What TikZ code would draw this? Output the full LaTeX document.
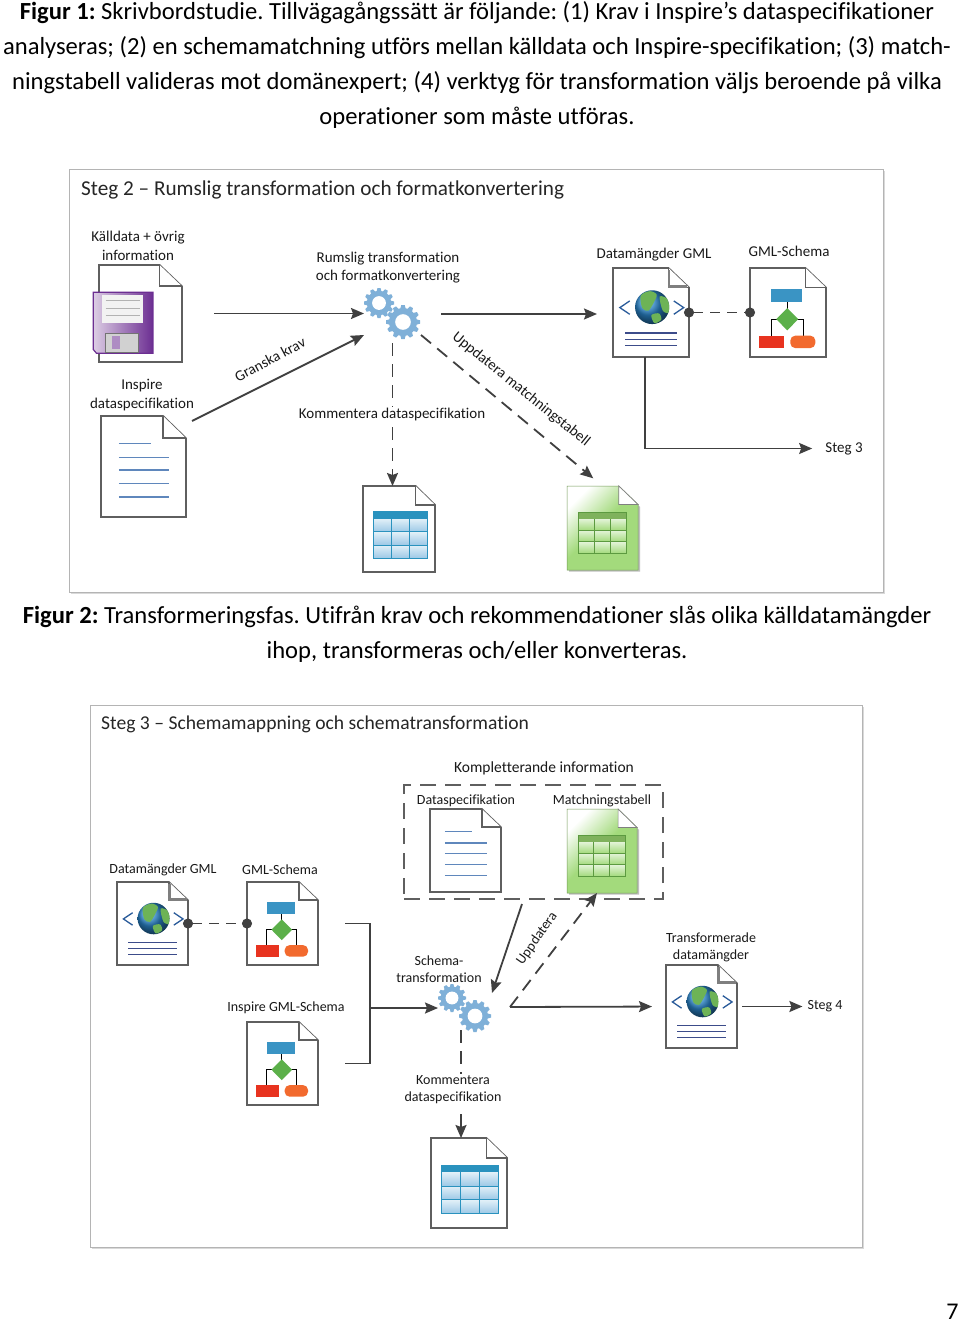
\documentclass[tikz,border=0pt]{standalone}
\usepackage{fontspec}
\setmainfont{Carlito}[Ligatures=CommonOff]
\usetikzlibrary{arrows.meta, calc}

\definecolor{linedark}{HTML}{404040}
\definecolor{pagegray}{HTML}{5F5F5F}
\definecolor{panelgray}{HTML}{B4B4B4}
\definecolor{gearblue}{HTML}{7FB0D8}
\definecolor{textlines}{HTML}{5F87BC}
\definecolor{tablehead}{HTML}{2A92BE}
\definecolor{tablelite}{HTML}{E2F0F8}
\definecolor{tabledark}{HTML}{9CC8E6}
\definecolor{greendoc}{HTML}{A3DA7C}
\definecolor{greenhead}{HTML}{7FB25C}
\definecolor{greenrule}{HTML}{5C9A40}
\definecolor{floppydark}{HTML}{6C2E92}
\definecolor{floppylite}{HTML}{DCCDE4}
\definecolor{globeblue}{HTML}{2A86CC}
\definecolor{globegreen}{HTML}{6DB356}
\definecolor{chevron}{HTML}{2A5B9A}
\definecolor{gmllines}{HTML}{3C4C8A}
\definecolor{schemablue}{HTML}{3A94C4}
\definecolor{schemagreen}{HTML}{5CB04A}
\definecolor{schemared}{HTML}{E8331F}
\definecolor{schemaorange}{HTML}{F26A2E}

\pgfdeclarehorizontalshading{greenfade}{100bp}{color(0bp)=(white); color(25bp)=(white); color(48bp)=(greendoc); color(100bp)=(greendoc)}

\tikzset{
x=1pt, y=-1pt, % coordinates are the pixels of the page
>={Stealth[length=13pt, width=11pt, inset=2pt]}, % bold arrow heads
flow/.style={->, draw=linedark, line width=1.8pt},
dashflow/.style={flow, dash pattern=on 13pt off 8pt},
plainline/.style={draw=linedark, line width=1.8pt},
linked/.style={draw=linedark, line width=1.8pt, dash pattern=on 10pt off 7pt, {Circle[length=10pt]}-{Circle[length=10pt]}, shorten <=-5pt, shorten >=-5pt},
panel/.style={draw=panelgray, line width=1pt, fill=white, inner sep=0pt},
iconbox/.style={inner sep=0pt, outer sep=0pt},
pageline/.style={draw=pagegray, line width=1.7pt, fill=white, line join=miter},
captiontext/.style={align=center, inner sep=0pt, text=black, yshift=-1.5pt, font=\fontsize{24.6}{34.7}\selectfont\frenchspacing},
titletext/.style={anchor=west, inner sep=0pt, text=black!85, yshift=-1.5pt},
labelA/.style={align=center, inner sep=0pt, text=black!90, yshift=-1.5pt, font=\fontsize{15}{18.5}\selectfont},
labelB/.style={align=center, inner sep=0pt, text=black!90, yshift=-1.5pt, font=\fontsize{14}{17}\selectfont},
}

% page with folded corner, in units of the icon
\newcommand{\pageoutline}{
    \draw[pageline] (0,0) -- (.73,0) -- (1,.22) -- (1,1) -- (0,1) -- cycle;
    \draw[pageline] (.73,0) -- (.73,.22) -- (1,.22);
}
% table: x0 y0 x1 y1, light and dark cell, rule colour, head colour
\newcommand{\tablegrid}[8]{
    \foreach \i in {0,1,2}
        \foreach \j in {0,1,2}
            \shade[top color=#5, bottom color=#6]
                ({#1+\i*(#3-#1)/3},{#2+.08+\j*(#4-#2-.08)/3}) rectangle ({#1+(\i+1)*(#3-#1)/3},{#2+.08+(\j+1)*(#4-#2-.08)/3});
    \foreach \i in {1,2}
        \draw[#7, line width=.8pt] ({#1+\i*(#3-#1)/3},{#2+.08}) -- ({#1+\i*(#3-#1)/3},#4);
    \foreach \j in {1,2}
        \draw[#7, line width=.8pt] (#1,{#2+.08+\j*(#4-#2-.08)/3}) -- (#3,{#2+.08+\j*(#4-#2-.08)/3});
    \fill[#8] (#1,#2) rectangle (#3,{#2+.08});
    \draw[#7, line width=.8pt] (#1,#2) rectangle (#3,#4);
}
% icon node plus its drawing: name, pic, left, top, width, height
\newcommand{\placedoc}[6]{
    \node[iconbox, minimum width=#5pt, minimum height=#6pt] (#1) at ({#3+#5/2},{#4+#6/2}) {};
    \pic at (#3,#4) {#2={#5}{#6}};
}

\tikzset{
pics/specicon/.style 2 args={code={
    \begin{scope}[x=#1pt, y=-#2pt]
        \pageoutline
        \draw[textlines, line width=1.4pt] (.21,.27) -- (.59,.27);
        \foreach \ly in {.41,.535,.67,.80}
            \draw[textlines, line width=1.4pt] (.21,\ly) -- (.80,\ly);
    \end{scope}
}},
pics/tableicon/.style 2 args={code={
    \begin{scope}[x=#1pt, y=-#2pt]
        \pageoutline
        \tablegrid{.14}{.30}{.89}{.84}{tablelite}{tabledark}{tablehead}{tablehead}
    \end{scope}
}},
pics/greenicon/.style 2 args={code={
    \begin{scope}[x=#1pt, y=-#2pt]
        \fill[black!25] (.03,.03) -- (.76,.03) -- (1.03,.25) -- (1.03,1.02) -- (.03,1.02) -- cycle;
        \shade[shading=greenfade, shading angle=-45, draw=greendoc!70!black, line width=.5pt]
            (0,0) -- (.73,0) -- (1,.22) -- (1,1) -- (0,1) -- cycle;
        \fill[white] (.73,0) -- (.73,.22) -- (1,.22) -- cycle;
        \draw[black!50, line width=.7pt] (.73,0) -- (.73,.22) -- (1,.22) -- cycle;
        \tablegrid{.16}{.31}{.83}{.80}{white!70!greendoc}{greendoc}{greenrule}{greenhead}
    \end{scope}
}},
pics/floppyicon/.style 2 args={code={
    \begin{scope}[x=#1pt, y=-#2pt]
        \pageoutline
        \shade[left color=floppylite, right color=floppydark, draw=floppydark, line width=1.2pt]
            (-.07,.28) -- (.65,.28) -- (.65,.91) -- (-.03,.91) -- (-.07,.87) -- cycle;
        \fill[white!95!black] (.04,.31) rectangle (.53,.60);
        \foreach \ly in {.37,.445,.52}
            \draw[black!30, line width=.8pt] (.08,\ly) -- (.49,\ly);
        \fill[black!18] (.08,.70) rectangle (.47,.90);
        \draw[black!55, line width=.6pt] (.08,.70) rectangle (.47,.90);
        \fill[floppydark!55] (.16,.73) rectangle (.25,.87);
    \end{scope}
}},
pics/gmlicon/.style 2 args={code={
    \begin{scope}[x=#1pt, y=-#2pt]
        \pageoutline
        \draw[pagegray!80, line width=2.5pt] (.74,.02) -- (.74,.21) -- (.98,.21);
        \shade[ball color=globeblue] (.515,.44) ellipse [x radius=.225, y radius=.19];
        \begin{scope}
            \clip (.515,.44) ellipse [x radius=.225, y radius=.19];
            \fill[globegreen] plot[smooth cycle] coordinates {(.365,.31) (.485,.26) (.575,.30) (.535,.39) (.465,.48) (.385,.45)};
            \fill[globegreen] plot[smooth cycle] coordinates {(.615,.32) (.735,.36) (.745,.50) (.655,.48)};
            \fill[globegreen] plot[smooth cycle] coordinates {(.505,.53) (.605,.51) (.635,.58) (.545,.62)};
        \end{scope}
        \draw[chevron, line width=1.3pt] (.22,.37) -- (.09,.445) -- (.22,.52);
        \draw[chevron, line width=1.3pt] (.80,.37) -- (.93,.445) -- (.80,.52);
        \foreach \ly in {.73,.80,.875}
            \draw[gmllines, line width=1.2pt] (.16,\ly) -- (.84,\ly);
    \end{scope}
}},
pics/schemaicon/.style 2 args={code={
    \begin{scope}[x=#1pt, y=-#2pt]
        \pageoutline
        \draw[black, line width=1pt] (.49,.38) -- (.49,.48);
        \draw[black, line width=1pt] (.28,.76) -- (.28,.575) -- (.70,.575) -- (.70,.76);
        \fill[schemablue] (.28,.24) rectangle (.68,.38);
        \fill[schemagreen] (.49,.45) -- (.635,.575) -- (.49,.70) -- (.345,.575) -- cycle;
        \fill[schemared] (.12,.76) rectangle (.45,.90);
        \fill[schemaorange, rounded corners=5pt] (.53,.76) rectangle (.86,.90);
    \end{scope}
}},
pics/gearwheel/.style={code={
    \begin{scope}[x=#1pt, y=#1pt]
        \foreach \a in {0,30,...,330}
            \fill[gearblue, rotate=\a] (-.17,.74) -- (-.1,1) -- (.1,1) -- (.17,.74) -- cycle;
        \fill[gearblue] (0,0) circle[radius=.82];
        \fill[white] (0,0) circle[radius=.46];
    \end{scope}
}},
}

\begin{document}
\begin{tikzpicture}
    \useasboundingbox (0,0) rectangle (960,1322);

    % captions and page number
    \node[captiontext] (captionA) at (477,63.5) {{\bfseries Figur 1:} Skrivbordstudie. Tillvägagångssätt är följande: (1) Krav i Inspire’s dataspecifikationer\\analyseras; (2) en schemamatchning utförs mellan källdata och Inspire-specifikation; (3) match-\\ningstabell valideras mot domänexpert; (4) verktyg för transformation väljs beroende på vilka\\operationer som måste utföras.};
    \node[captiontext] (captionB) at (477,633) {{\bfseries Figur 2:} Transformeringsfas. Utifrån krav och rekommendationer slås olika källdatamängder\\ihop, transformeras och/eller konverteras.};
    \node[inner sep=0pt, font=\fontsize{24}{26}\selectfont] (pagenum) at (952.5,1312) {7};

    % first panel
    \fill[black!15] (71,171) rectangle (885,594);
    \node[panel, minimum width=814pt, minimum height=423pt] (panelA) at (476,380.5) {};
    \node[titletext, font=\fontsize{21.2}{24}\selectfont] (titleA) at (81,188) {Steg 2 – Rumslig transformation och formatkonvertering};

    \placedoc{srcdoc}{floppyicon}{99}{265}{83}{97}
    \placedoc{specdocA}{specicon}{101}{416}{85}{101}
    \placedoc{commentA}{tableicon}{363}{486}{72}{86}
    \placedoc{matchA}{greenicon}{567}{486}{71}{84}
    \placedoc{gmlA}{gmlicon}{613}{268}{76}{89}
    \placedoc{schemaA}{schemaicon}{750}{268}{76}{89}

    \node[iconbox, minimum width=57pt, minimum height=42pt] (gearsA) at (392.5,314) {};
    \pic at (379,303) {gearwheel=15};
    \pic at (403,322) {gearwheel=17};

    \node[labelA] (srclabel) at (138,244.5) {Källdata + övrig\\information};
    \node[labelA] (gearlabelA) at (388,266) {Rumslig transformation\\och formatkonvertering};
    \node[labelA] (gmllabelA) at (654,253) {Datamängder GML};
    \node[labelA] (schemalabelA) at (789,250) {GML-Schema};
    \node[labelA] (speclabelA) at (142,393.5) {Inspire\\dataspecifikation};
    \node[labelA, rotate=28] (kravlabel) at (270,358) {Granska krav};
    \node[labelA, rotate=-39] (updlabelA) at (521,388) {Uppdatera matchningstabell};
    \node[labelA] (stegthree) at (844,447) {Steg 3};

    \coordinate (specout) at (192,421);
    \coordinate (gmlexit) at (645,357);
    \draw[flow, shorten <=32pt] (srcdoc.east) -- (gearsA.west |- srcdoc.east);
    \draw[flow] (specout) -- (gearsA.south west);
    \draw[flow, shorten <=20pt, shorten >=16pt] (gearsA.east) -- (gmlA.west |- gearsA.east);
    \draw[dashflow, shorten <=8pt] (gearsA.south) -- (gearsA.south |- commentA.north);
    \draw[dashflow, shorten >=12pt] (gearsA.south east) -- (matchA.north);
    \draw[linked] (gmlA.east) -- (schemaA.west);
    \draw[flow, shorten >=13pt] (gmlexit) |- (stegthree.west);
    \node[labelA, fill=white, inner ysep=1.5pt] (commlabelA) at (392,413) {Kommentera dataspecifikation};

    % second panel
    \fill[black!15] (92,707) rectangle (864,1249);
    \node[panel, minimum width=772pt, minimum height=542pt] (panelB) at (476,976) {};
    \node[titletext, font=\fontsize{19.6}{24}\selectfont] (titleB) at (101,723) {Steg 3 – Schemamappning och schematransformation};

    \node[iconbox, draw=pagegray, line width=1.4pt, dash pattern=on 16pt off 9pt, minimum width=259pt, minimum height=114pt] (extrabox) at (533.5,842) {};

    \placedoc{gmlB}{gmlicon}{117}{882}{71}{83}
    \placedoc{schemaB}{schemaicon}{247}{882}{71}{83}
    \placedoc{inspireB}{schemaicon}{247}{1022}{71}{83}
    \placedoc{specdocB}{specicon}{430}{809}{71}{83}
    \placedoc{matchB}{greenicon}{567}{809}{70}{84}
    \placedoc{commentB}{tableicon}{431}{1138}{76}{90}
    \placedoc{resultB}{gmlicon}{666}{965}{71}{83}

    \node[iconbox, minimum width=46pt, minimum height=44pt] (gearsB) at (461,1008) {};
    \pic at (452,998) {gearwheel=14};
    \pic at (475,1016) {gearwheel=16};

    \node[labelB] (extralabel) at (544,767) {\fontsize{15.5}{18}\selectfont Kompletterande information};
    \node[labelB] (speclabelB) at (466,799) {Dataspecifikation};
    \node[labelB] (matchlabelB) at (602,799) {Matchningstabell};
    \node[labelB] (gmllabelB) at (163,868) {Datamängder GML};
    \node[labelB] (schemalabelB) at (280,868) {GML-Schema};
    \node[labelB] (inspirelabel) at (286,1006) {Inspire GML-Schema};
    \node[labelB] (gearlabelB) at (439,967.5) {Schema-\\transformation};
    \node[labelB] (resultlabel) at (711,946) {Transformerade\\datamängder};
    \node[labelB, rotate=55] (updlabelB) at (537,937) {Uppdatera};
    \node[labelB] (stegfour) at (825,1005) {Steg 4};

    \coordinate (bracket) at (370,1008);
    \coordinate (extraout) at (522,904);
    \coordinate (gearsin) at (492,993);
    \coordinate (split) at (510,1007);
    \coordinate (matchin) at (597,893);
    \draw[linked] (gmlB.east) -- (schemaB.west);
    \draw[plainline, shorten <=27pt, shorten >=27pt] (schemaB.east) -- (schemaB.east -| bracket) -- (inspireB.east -| bracket) -- (inspireB.east);
    \draw[flow] (bracket) -- (gearsB.west);
    \draw[flow] (extraout) -- (gearsin);
    \draw[dashflow] (split) -- (matchin);
    \draw[flow, shorten >=14pt] (split) -- (resultB.west);
    \draw[flow, shorten <=5pt, shorten >=5pt] (resultB.east) -- (stegfour.west);
    \draw[dashflow] (gearsB.south) -- (gearsB.south |- commentB.north);
    \node[labelB, fill=white, inner ysep=1.5pt] (commlabelB) at (453,1088.5) {Kommentera\\dataspecifikation};
\end{tikzpicture}
\end{document}
